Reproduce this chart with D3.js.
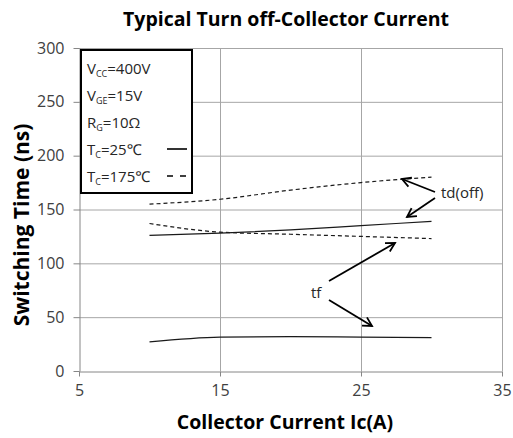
<!DOCTYPE html>
<html>
<head>
<meta charset="utf-8">
<script src="https://cdn.jsdelivr.net/npm/d3@7"></script>
<style>
  html, body { margin: 0; padding: 0; background: #fff; }
  svg { display: block; }
  text { font-family: "Open Sans", "Noto Sans", sans-serif; }
</style>
</head>
<body>
<svg id="chart" width="513" height="438"></svg>
<script>
// ---- data ----
const currents = [10, 15, 20, 25, 30];
const tdoff25 = [126, 128, 131, 135, 139];
const tdoff175 = [155, 159.5, 168, 175, 180];
const tf25 = [27, 31.5, 32, 31.5, 31];
const tf175 = [137, 129, 127, 125, 123];
const xTicks = [5, 15, 25, 35];
const yTicks = [0, 50, 100, 150, 200, 250, 300];
const legendLines = [
  {main: "V", sub: "CC", rest: "=400V"},
  {main: "V", sub: "GE", rest: "=15V"},
  {main: "R", sub: "G", rest: "=10Ω"},
  {main: "T", sub: "C", rest: "=25℃", dash: null},
  {main: "T", sub: "C", rest: "=175℃", dash: "4,3"}
];
const titleText = "Typical Turn off-Collector Current";
const xTitle = "Collector Current Ic(A)";
const yTitle = "Switching Time (ns)";

// ---- layout ----
const svg = d3.select("#chart");
const m = {left: 79, right: 502, top: 48, bottom: 371};
const x = d3.scaleLinear().domain([5, 35]).range([m.left, m.right]);
const y = d3.scaleLinear().domain([0, 300]).range([m.bottom, m.top]);

// gridlines
svg.append("g").selectAll("line").data(yTicks.filter(d => d > 0)).join("line")
  .attr("x1", m.left).attr("x2", m.right)
  .attr("y1", d => y(d) + 0.5).attr("y2", d => y(d) + 0.5)
  .attr("stroke", "#a6a6a6").attr("stroke-width", 1);
svg.append("g").selectAll("line").data(xTicks.filter(d => d > 5)).join("line")
  .attr("y1", m.top).attr("y2", m.bottom)
  .attr("x1", d => x(d) + 0.5).attr("x2", d => x(d) + 0.5)
  .attr("stroke", "#a6a6a6").attr("stroke-width", 1);

// axes
const yAxis = svg.append("g").attr("transform", `translate(${m.left + 0.5},0)`)
  .call(d3.axisLeft(y).tickValues(yTicks).tickSize(6).tickPadding(9).tickSizeOuter(0));
const xAxis = svg.append("g").attr("transform", `translate(0,${m.bottom + 0.5})`)
  .call(d3.axisBottom(x).tickValues(xTicks).tickSize(5).tickPadding(8).tickSizeOuter(0));
[yAxis, xAxis].forEach(a => {
  a.select(".domain").attr("stroke", "#868686");
  a.selectAll(".tick line").attr("stroke", "#868686");
  a.selectAll(".tick text").attr("fill", "#404040").style("font-size", "16px")
    .style("font-family", "Open Sans, sans-serif");
});

// series
const line = d3.line().x((d, i) => x(currents[i])).y(d => y(d)).curve(d3.curveMonotoneX);
const series = [
  {v: tdoff25, dash: null},
  {v: tdoff175, dash: "4,3"},
  {v: tf25, dash: null},
  {v: tf175, dash: "4,3"}
];
svg.append("g").selectAll("path").data(series).join("path")
  .attr("d", d => line(d.v))
  .attr("fill", "none").attr("stroke", "#1a1a1a").attr("stroke-width", 1.2)
  .attr("stroke-dasharray", d => d.dash);

// legend box
const lg = svg.append("g");
lg.append("rect").attr("x", 81).attr("y", 50).attr("width", 111).attr("height", 143)
  .attr("fill", "#fff").attr("stroke", "#000").attr("stroke-width", 2);
legendLines.forEach((d, i) => {
  const t = lg.append("text").attr("x", 87).attr("y", 74 + i * 27)
    .attr("fill", "#262626").style("font-size", "15px");
  t.append("tspan").text(d.main);
  t.append("tspan").text(d.sub).style("font-size", "9px").attr("dy", 3);
  t.append("tspan").text(d.rest).attr("dy", -3);
  if (i >= 3) {
    lg.append("line").attr("x1", 167).attr("x2", 187)
      .attr("y1", 68 + i * 27).attr("y2", 68 + i * 27)
      .attr("stroke", "#000").attr("stroke-width", 1.6)
      .attr("stroke-dasharray", d.dash === null ? null : "6,7");
  }
});

// annotations
const ann = svg.append("g");
const arrows = [
  {from: [435, 192], to: [402, 179]},
  {from: [435, 198], to: [407, 217]},
  {from: [329, 281], to: [395, 243]},
  {from: [329, 300], to: [372, 326]}
];
arrows.forEach(a => {
  const [x1, y1] = a.from, [x2, y2] = a.to;
  ann.append("line").attr("x1", x1).attr("y1", y1).attr("x2", x2).attr("y2", y2)
    .attr("stroke", "#000").attr("stroke-width", 1.8);
  const ang = Math.atan2(y2 - y1, x2 - x1);
  const L = 10, w = 0.5;
  const p1 = [x2 - L * Math.cos(ang - w), y2 - L * Math.sin(ang - w)];
  const p2 = [x2 - L * Math.cos(ang + w), y2 - L * Math.sin(ang + w)];
  ann.append("path").attr("d", `M${p1}L${x2},${y2}L${p2}`)
    .attr("fill", "none").attr("stroke", "#000").attr("stroke-width", 1.8);
});
ann.append("text").attr("x", 441).attr("y", 198).text("td(off)")
  .attr("fill", "#262626").style("font-size", "15px");
ann.append("text").attr("x", 311).attr("y", 298).text("tf")
  .attr("fill", "#262626").style("font-size", "15px");

// titles
svg.append("text").attr("x", 286).attr("y", 26).attr("text-anchor", "middle")
  .style("font-size", "19.5px").style("font-weight", "bold").attr("fill", "#000")
  .text(titleText);
svg.append("text").attr("x", 285).attr("y", 429).attr("text-anchor", "middle")
  .style("font-size", "19.5px").style("font-weight", "bold").attr("fill", "#000")
  .text(xTitle);
svg.append("text").attr("transform", "translate(29,225) rotate(-90)").attr("text-anchor", "middle")
  .style("font-size", "21px").style("font-weight", "bold").attr("fill", "#000")
  .text(yTitle);
</script>
</body>
</html>
